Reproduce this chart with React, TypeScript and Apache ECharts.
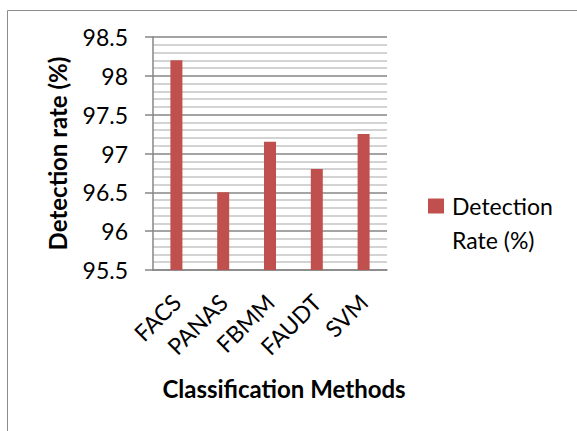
import React, { useEffect, useRef } from "react";
import * as echarts from "echarts";

const categories = ["FACS", "PANAS", "FBMM", "FAUDT", "SVM"];
const detectionRate = [98.2, 96.5, 97.15, 96.8, 97.25];
const seriesName = "Detection Rate (%)";
const legendLines = ["", "Detection", "Rate (%)"];
const yMin = 95.5;
const yMax = 98.5;
const yStep = 0.5;

export default function App() {
  const ref = useRef<HTMLDivElement>(null);
  useEffect(() => {
    if (!ref.current) return;
    const chart = echarts.init(ref.current, undefined, { renderer: "svg" });
    const font = "Lato";
    chart.setOption({
      animation: false,
      backgroundColor: "#ffffff",
      textStyle: { fontFamily: font },
      grid: { left: 153, top: 37, width: 234, height: 233 },
      graphic: [
        {
          type: "rect",
          silent: true,
          z: -10,
          shape: { x: 7.5, y: 10.5, width: 620, height: 460 },
          style: { fill: "none", stroke: "#8c8c8c", lineWidth: 1 },
        },
      ],
      legend: {
        left: 428,
        top: 155,
        padding: 0,
        orient: "vertical",
        itemWidth: 16,
        itemHeight: 15,
        icon: "rect",
        formatter: () => legendLines.join("\n"),
        textStyle: {
          fontFamily: font,
          fontSize: 23,
          color: "#000",
          lineHeight: 34,
          padding: [0, 0, 0, 3],
        },
        data: [seriesName],
      },
      xAxis: {
        type: "category",
        data: categories,
        axisLine: { lineStyle: { color: "#868686", width: 1.5 } },
        axisTick: { show: false },
        axisLabel: {
          rotate: 45,
          margin: 28,
          fontSize: 23,
          color: "#000",
          fontFamily: font,
          interval: 0,
        },
        name: "Classification Methods",
        nameLocation: "middle",
        nameGap: 106,
        nameTextStyle: {
          fontFamily: font,
          fontWeight: "bold",
          fontSize: 24,
          color: "#000",
          padding: [0, 0, 0, 28],
        },
      },
      yAxis: {
        type: "value",
        min: yMin,
        max: yMax,
        interval: yStep,
        axisLine: { show: true, lineStyle: { color: "#868686", width: 1.5 } },
        axisTick: { show: true, length: 8, lineStyle: { color: "#868686", width: 1.5 } },
        axisLabel: { margin: 25, fontSize: 23, color: "#000", fontFamily: font },
        splitLine: { show: true, lineStyle: { color: "#868686", width: 1.5 } },
        minorTick: { show: false, splitNumber: 5 },
        minorSplitLine: { show: true, lineStyle: { color: "#c4c4c4", width: 1.5 } },
        name: "Detection rate (%)",
        nameLocation: "middle",
        nameGap: 84,
        nameRotate: 90,
        nameTextStyle: {
          fontFamily: font,
          fontWeight: "bold",
          fontSize: 24,
          color: "#000",
        },
      },
      series: [
        {
          type: "bar",
          name: seriesName,
          data: detectionRate,
          barWidth: 12,
          itemStyle: { color: "#C0504D" },
        },
      ],
    });
    return () => chart.dispose();
  }, []);
  return (
    <div
      ref={ref}
      style={{ position: "absolute", left: 0, top: 0, width: 577, height: 431 }}
    />
  );
}
